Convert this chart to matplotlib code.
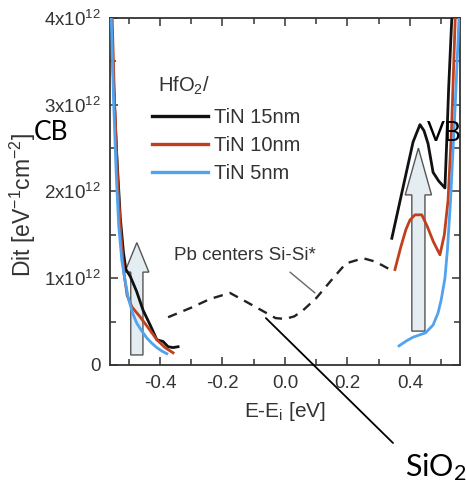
import matplotlib
matplotlib.use("Agg")
import matplotlib.pyplot as plt
from matplotlib.patches import FancyArrow
from matplotlib.ticker import MultipleLocator, FixedLocator

plt.rcParams['font.family'] = ['Liberation Sans', 'DejaVu Sans']
plt.rcParams['mathtext.default'] = 'regular'

# Dit in units of 1e12 eV^-1 cm^-2, energy E-Ei in eV
# conduction band side (left)
black_cb_x = [-0.556, -0.548, -0.538, -0.527, -0.517, -0.509, -0.495, -0.475, -0.454,
              -0.43, -0.41, -0.39, -0.374, -0.358, -0.342]
black_cb_y = [4.0, 3.2, 2.4, 1.7, 1.3, 1.1, 1.02, 0.85, 0.63, 0.45, 0.29, 0.27, 0.21, 0.2, 0.21]
red_cb_x = [-0.553, -0.545, -0.535, -0.525, -0.515, -0.505, -0.49, -0.465, -0.44, -0.41,
            -0.384, -0.358]
red_cb_y = [4.0, 3.0, 2.1, 1.5, 1.05, 0.8, 0.67, 0.56, 0.44, 0.29, 0.2, 0.14]
blue_cb_x = [-0.556, -0.548, -0.54, -0.532, -0.522, -0.512, -0.502, -0.488, -0.474,
             -0.458, -0.442, -0.426, -0.41, -0.394, -0.378]
blue_cb_y = [4.0, 3.0, 2.2, 1.6, 1.2, 0.98, 0.78, 0.6, 0.48, 0.39, 0.31, 0.25, 0.2, 0.16, 0.13]

# valence band side (right)
black_vb_x = [0.342, 0.375, 0.41, 0.432, 0.445, 0.458, 0.474, 0.492, 0.512, 0.518, 0.524, 0.534]
black_vb_y = [1.46, 2.0, 2.57, 2.77, 2.7, 2.55, 2.22, 2.12, 2.04, 2.6, 3.2, 4.0]
red_vb_x = [0.352, 0.37, 0.387, 0.4, 0.416, 0.438, 0.455, 0.475, 0.496, 0.51, 0.522, 0.533, 0.545]
red_vb_y = [1.1, 1.35, 1.56, 1.67, 1.73, 1.73, 1.6, 1.42, 1.27, 1.5, 1.9, 2.7, 4.0]
blue_vb_x = [0.365, 0.39, 0.41, 0.45, 0.474, 0.49, 0.5, 0.512, 0.52, 0.53, 0.545, 0.557]
blue_vb_y = [0.22, 0.28, 0.32, 0.37, 0.46, 0.6, 0.75, 1.0, 1.33, 1.9, 3.0, 4.0]

# Pb centers (SiO2 reference), dashed
pb_x = [-0.374, -0.3, -0.24, -0.176, -0.12, -0.06, -0.03, 0.0, 0.03, 0.058, 0.1, 0.154,
        0.195, 0.25, 0.29, 0.336]
pb_y = [0.55, 0.66, 0.76, 0.83, 0.72, 0.6, 0.54, 0.53, 0.56, 0.63, 0.77, 1.0, 1.17, 1.23,
        1.19, 1.1]

labels = ['TiN 15nm', 'TiN 10nm', 'TiN 5nm']
colors = ['#111111', '#c0401e', '#4fa3ef']
x_ticks = [-0.4, -0.2, 0.0, 0.2, 0.4]
x_ticklabels = ['-0.4', '-0.2', '0.0', '0.2', '0.4']
y_ticks = [0, 1, 2, 3, 4]
y_ticklabels = ['0', '1x10$^{12}$', '2x10$^{12}$', '3x10$^{12}$', '4x10$^{12}$']

txt = '#333333'

fig = plt.figure(figsize=(4.66, 4.84), dpi=100)
ax = fig.add_axes([0.236, 0.246, 0.751, 0.717])

cb = [(black_cb_x, black_cb_y), (red_cb_x, red_cb_y), (blue_cb_x, blue_cb_y)]
vb = [(black_vb_x, black_vb_y), (red_vb_x, red_vb_y), (blue_vb_x, blue_vb_y)]

# arrows first so curves are drawn over them
arrow_kw = dict(length_includes_head=True, facecolor='#e4edf1', edgecolor='#555555',
                lw=1.0, zorder=1)
ax.add_patch(FancyArrow(-0.474, 0.115, 0, 1.41 - 0.115, width=0.039, head_width=0.077,
                        head_length=0.34, **arrow_kw))
ax.add_patch(FancyArrow(0.427, 0.39, 0, 2.5 - 0.39, width=0.042, head_width=0.084,
                        head_length=0.54, **arrow_kw))

for (x, y), c, lab in zip(cb, colors, labels):
    ax.plot(x, y, color=c, lw=2.0, label=lab, zorder=3)
for (x, y), c in zip(vb, colors):
    ax.plot(x, y, color=c, lw=2.0, zorder=3)

ax.plot(pb_x, pb_y, color='#222222', lw=1.7, dashes=(4, 3), zorder=2)
ax.text(-0.355, 1.26, 'Pb centers Si-Si*', fontsize=13.5, color=txt, va='center', ha='left')
ax.annotate('', xy=(0.096, 0.83), xytext=(0.016, 1.07),
            arrowprops=dict(arrowstyle='-', color='#666666', lw=1.0, shrinkA=0, shrinkB=0))

ax.set_xlim(-0.56, 0.56)
ax.set_ylim(0, 4)
ax.xaxis.set_major_locator(FixedLocator(x_ticks))
ax.set_xticklabels(x_ticklabels)
ax.xaxis.set_minor_locator(MultipleLocator(0.1))
ax.yaxis.set_major_locator(FixedLocator(y_ticks))
ax.set_yticklabels(y_ticklabels)
ax.yaxis.set_minor_locator(MultipleLocator(0.5))
ax.tick_params(which='both', direction='in', top=True, right=True, color='#333333',
               labelcolor=txt, width=1.1)
ax.tick_params(which='major', length=6, labelsize=13.5, pad=7)
ax.tick_params(which='minor', length=4)
for s in ax.spines.values():
    s.set_color('#333333')
    s.set_linewidth(1.3)

ax.set_xlabel('E-E$_i$ [eV]', fontsize=15, color=txt)
ax.xaxis.set_label_coords(0.5, -0.1)
ax.set_ylabel('Dit [eV$^{-1}$cm$^{-2}$]', fontsize=16.5, color=txt)
ax.yaxis.set_label_coords(-0.205, 0.462)

# legend title as its own text, legend rows below it
ax.text(0.137, 0.787, 'HfO$_2$/', transform=ax.transAxes, fontsize=14.5, color=txt,
        ha='left', va='baseline')
leg = ax.legend(loc='upper left', bbox_to_anchor=(0.12, 0.739), frameon=False,
                fontsize=14.5, handlelength=2.8, handletextpad=0.3, labelspacing=0.43,
                borderpad=0, borderaxespad=0)
for t in leg.get_texts():
    t.set_color(txt)
for h in leg.legend_handles:
    h.set_linewidth(2.4)

# band labels and SiO2 pointer
fig.text(0.073, 0.727, 'CB', fontsize=19, family='Lato', va='center', ha='left')
fig.text(0.916, 0.725, 'VB', fontsize=19, family='Lato', va='center', ha='left')
fig.text(0.869, 0.017, 'SiO$_2$', fontsize=22, family='Lato', va='baseline', ha='left')
ax.annotate('', xy=(-0.061, 0.54), xycoords='data',
            xytext=(393 / 466, 1 - 443 / 484), textcoords='figure fraction',
            arrowprops=dict(arrowstyle='-', color='black', lw=1.3, shrinkA=0, shrinkB=0),
            annotation_clip=False)

fig.savefig('out.png', dpi=100)
